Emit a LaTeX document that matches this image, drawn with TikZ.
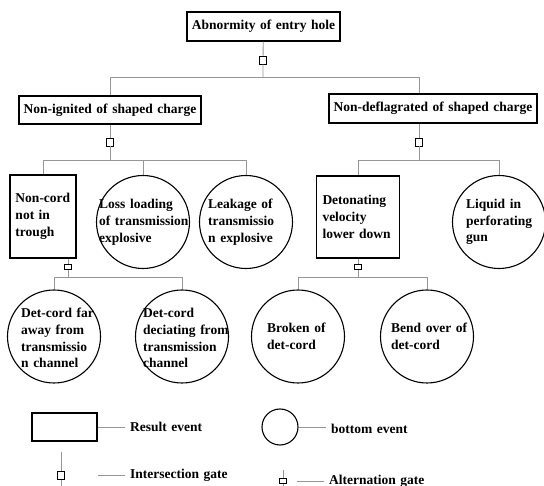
\documentclass[tikz,border=0pt]{standalone}
\usepackage{fontspec}
\setmainfont[WordSpace=1.35]{Liberation Serif}
\definecolor{linkgrey}{RGB}{150, 150, 150}
\tikzstyle{faulttree} = [
  x=1pt,
  y=-1pt,
  font=\fontsize{13.5}{16.8}\selectfont\bfseries,
]
\tikzstyle{resultev} = [draw=black, line width=1.3pt, fill=white, inner sep=0pt]
\tikzstyle{basicev} = [draw=black, line width=1.1pt, circle, inner sep=0pt, minimum size=2*\radius]
\tikzstyle{evtext} = [align=left, anchor=west, inner sep=0pt]
\tikzstyle{link} = [draw=linkgrey, line width=0.9pt]
\tikzstyle{andgate} = [draw=black, fill=white, line width=0.9pt, inner sep=0pt, minimum width=7pt, minimum height=8pt]
\tikzstyle{orgate} = [andgate, minimum height=4.5pt]
\tikzstyle{legtext} = [anchor=west, inner xsep=5pt, inner ysep=0pt]

\begin{document}
\begin{tikzpicture}[faulttree]
            \def\radius{46.5pt}
            \useasboundingbox (0,0) rectangle (544,486);

            % Result events
            \node[resultev, minimum width=153pt, minimum height=29pt] (top) at (263.5,26.5) {Abnormity of entry hole};
            \node[resultev, minimum width=182pt, minimum height=28pt] (nonign) at (110,110) {Non-ignited of shaped charge};
            \node[resultev, minimum width=208pt, minimum height=29pt] (nondef) at (433,108.5) {Non-deflagrated of shaped charge};
            \node[resultev, text width=55pt, inner xsep=5.5pt, minimum height=83pt, align=left] (noncord) at (43,216.5) {Non-cord\\not in\\trough};
            \node[resultev, text width=71pt, inner xsep=6pt, minimum height=82pt, align=left] (deton) at (358,217) {Detonating\\velocity\\lower down};

            % Bottom events
            \node[basicev] (loss) at (143,222) {};
            \node[basicev] (leak) at (246,222) {};
            \node[basicev] (liquid) at (499,222) {};
            \node[basicev] (far) at (54,336.5) {};
            \node[basicev] (dev) at (182,336.5) {};
            \node[basicev] (broken) at (298,336.5) {};
            \node[basicev] (bend) at (427,336.5) {};

            \node[evtext] (losstxt) at (99,222) {Loss loading\\of transmission\\explosive};
            \node[evtext] (leaktxt) at (208,222) {Leakage of\\transmissio\\n explosive};
            \node[evtext] (liquidtxt) at (466,222) {Liquid in\\perforating\\gun};
            \node[evtext] (fartxt) at (21,338) {Det-cord far\\away from\\transmissio\\n channel};
            \node[evtext] (devtxt) at (143,338) {Det-cord\\deciating from\\transmission\\channel};
            \node[evtext] (brokentxt) at (267,336) {Broken of\\det-cord};
            \node[evtext] (bendtxt) at (391,336) {Bend over of\\det-cord};

            % Gates
            \node[andgate] (g0) at (263,60) {};
            \node[andgate] (g1) at (110,142) {};
            \node[andgate] (g2) at (419,142) {};
            \node[orgate] (g3) at (68,267) {};
            \node[orgate] (g4) at (358,267) {};
            \coordinate (b0) at (263,77);
            \coordinate (b1) at (110,160);
            \coordinate (b2) at (419,160);
            \coordinate (b3) at (68,277);
            \coordinate (b4) at (358,277);

            % Connectors
            \draw[link] (top) -- (g0) -- (b0);
            \draw[link] (b0) -| (nonign);
            \draw[link] (b0) -| ([xshift=-14pt]nondef.north);
            \draw[link] (nonign) -- (g1) -- (b1);
            \draw[link] (b1) -| (noncord);
            \draw[link] (b1) -| (loss);
            \draw[link] (b1) -| (leak);
            \draw[link] ([xshift=-14pt]nondef.south) -- (g2) -- (b2);
            \draw[link] (b2) -| (deton);
            \draw[link] (b2) -| (liquid);
            \draw[link] ([xshift=25pt]noncord.south) -- (g3) -- (b3);
            \draw[link] (b3) -| (far);
            \draw[link] (b3) -| (dev);
            \draw[link] (deton) -- (g4) -- (b4);
            \draw[link] (b4) -| (broken);
            \draw[link] (b4) -| (bend);

            % Legend
            \node[resultev, minimum width=65pt, minimum height=28pt] (legres) at (64.5,427) {};
            \node[legtext] (legrestxt) at (125,427) {Result event};
            \draw[link] (legres) -- (legrestxt);

            \node[basicev, minimum size=36pt] (legbot) at (280,427) {};
            \node[legtext] (legbottxt) at (326,429) {bottom event};
            \draw[link] (legbot.east) -- (legbot.east -| legbottxt.west);

            \node[andgate] (legand) at (61,475.5) {};
            \coordinate (legandtop) at (61,452);
            \coordinate (legandbot) at (61,486);
            \coordinate (legandln) at (98,475);
            \node[legtext] (legandtxt) at (125,475) {Intersection gate};
            \draw[link] (legandtop) -- (legand) -- (legandbot);
            \draw[link] (legandln) -- (legandtxt);

            \node[orgate] (legor) at (283,481) {};
            \coordinate (legortop) at (283,470);
            \coordinate (legorbot) at (283,486);
            \coordinate (legorln) at (297,481);
            \node[legtext] (legortxt) at (324,481) {Alternation gate};
            \draw[link] (legortop) -- (legor) -- (legorbot);
            \draw[link] (legorln) -- (legortxt);
          \end{tikzpicture}
\end{document}
